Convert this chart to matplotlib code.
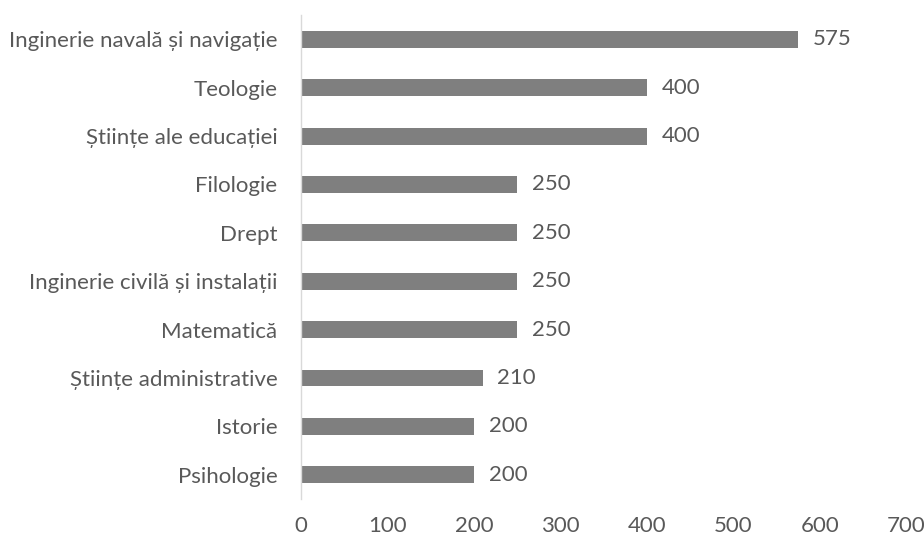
import matplotlib
matplotlib.use("Agg")
import matplotlib.pyplot as plt

categories = ["Inginerie navală și navigație", "Teologie", "Științe ale educației",
              "Filologie", "Drept", "Inginerie civilă și instalații", "Matematică",
              "Științe administrative", "Istorie", "Psihologie"]
values = [575, 400, 400, 250, 250, 250, 250, 210, 200, 200]
xticks = [0, 100, 200, 300, 400, 500, 600, 700]

plt.rcParams['font.family'] = ['Lato', 'DejaVu Sans']
text_color = "#595959"
fs = 16

fig = plt.figure(figsize=(9.24, 5.39), dpi=100)
ax = fig.add_axes([0.3258, 0.0742, 0.981 - 0.3258, 0.972 - 0.0742])

n = len(categories)
ypos = list(range(n))[::-1]
ax.barh(ypos, values, height=0.35, color="#7f7f7f")
for y, v in zip(ypos, values):
    ax.text(v + 17, y, str(v), va="center", ha="left", fontsize=fs, color=text_color)

ax.set_xlim(0, 700)
ax.set_ylim(-0.5, n - 0.5)
ax.set_yticks(ypos)
ax.set_yticklabels(categories, fontsize=fs, color=text_color)
ax.set_xticks(xticks)
ax.set_xticklabels([str(t) for t in xticks], fontsize=fs, color=text_color)
ax.tick_params(axis="both", length=0)
ax.tick_params(axis="x", pad=12)
ax.tick_params(axis="y", pad=17)
for s in ["top", "right", "bottom"]:
    ax.spines[s].set_visible(False)
ax.spines["left"].set_color("#d9d9d9")
ax.spines["left"].set_linewidth(1.0)

fig.savefig("out.png", dpi=100)
